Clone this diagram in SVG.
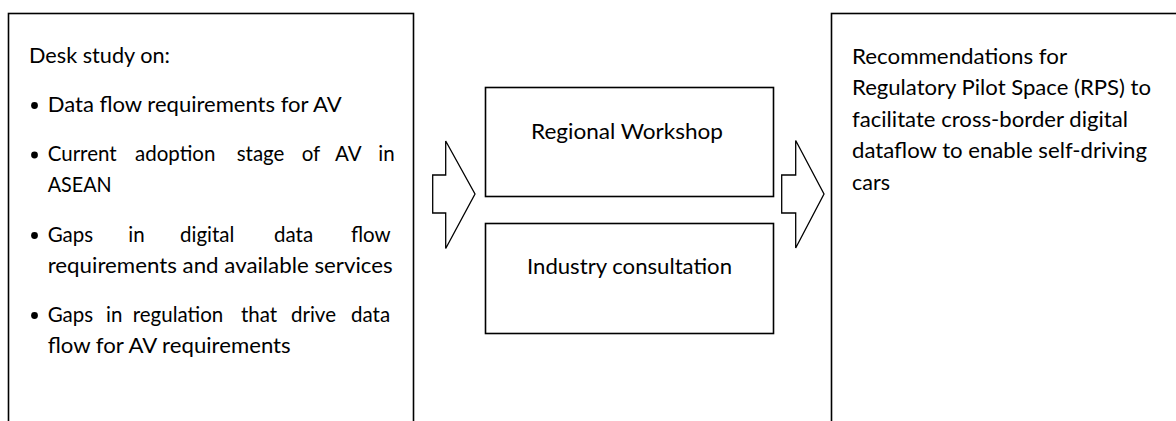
<svg xmlns="http://www.w3.org/2000/svg" width="1176" height="421" viewBox="0 0 1176 421">
<style>
.box{fill:#fff;stroke:#000;stroke-width:1.6}
.arr{fill:#fff;stroke:#000;stroke-width:1.3;stroke-linejoin:miter}
text{font-family:Lato,"Open Sans","Liberation Sans",sans-serif;font-size:20.5px;fill:#000}
</style>
<rect width="1176" height="421" fill="#fff"/>
<g id="desk-study">
<rect class="box" x="8.5" y="13.5" width="405" height="420"/>
<text x="29" y="63" textLength="141" lengthAdjust="spacingAndGlyphs">Desk study on:</text>
<circle cx="34.5" cy="105.5" r="3.4"/>
<text x="47.7" y="111.5" textLength="294" lengthAdjust="spacingAndGlyphs">Data flow requirements for AV</text>
<circle cx="34.5" cy="155" r="3.4"/>
<text y="161"><tspan x="47.7">Current</tspan><tspan x="135">adoption</tspan><tspan x="236.7">stage</tspan><tspan x="301.7">of</tspan><tspan x="335">AV</tspan><tspan x="378.3">in</tspan></text>
<text x="47.7" y="192" textLength="64" lengthAdjust="spacingAndGlyphs">ASEAN</text>
<circle cx="34.5" cy="235.5" r="3.4"/>
<text y="241.5"><tspan x="47.7">Gaps</tspan><tspan x="128.3">in</tspan><tspan x="180">digital</tspan><tspan x="274">data</tspan><tspan x="351">flow</tspan></text>
<text x="47.7" y="273" textLength="345" lengthAdjust="spacingAndGlyphs">requirements and available services</text>
<circle cx="34.5" cy="315.5" r="3.4"/>
<text y="321.5"><tspan x="47.7">Gaps</tspan><tspan x="106">in</tspan><tspan x="132.7">regulation</tspan><tspan x="241">that</tspan><tspan x="291">drive</tspan><tspan x="351">data</tspan></text>
<text x="47.7" y="353" textLength="243" lengthAdjust="spacingAndGlyphs">flow for AV requirements</text>
</g>
<g id="regional-workshop">
<rect class="box" x="485.5" y="87.5" width="288" height="109"/>
<text x="531" y="138.5" textLength="192" lengthAdjust="spacingAndGlyphs">Regional Workshop</text>
</g>
<g id="industry-consultation">
<rect class="box" x="485.5" y="223.5" width="288" height="110"/>
<text x="527" y="273.5" textLength="205" lengthAdjust="spacingAndGlyphs">Industry consultation</text>
</g>
<g id="recommendations">
<rect class="box" x="831.5" y="13.5" width="400" height="420"/>
<text x="852" y="63.5" textLength="215" lengthAdjust="spacingAndGlyphs">Recommendations for</text>
<text x="852" y="95" textLength="299" lengthAdjust="spacingAndGlyphs">Regulatory Pilot Space (RPS) to</text>
<text x="852" y="126.5" textLength="276" lengthAdjust="spacingAndGlyphs">facilitate cross-border digital</text>
<text x="852" y="158" textLength="295" lengthAdjust="spacingAndGlyphs">dataflow to enable self-driving</text>
<text x="852" y="189.5" textLength="38" lengthAdjust="spacingAndGlyphs">cars</text>
</g>
<g id="connectors">
<polygon class="arr" points="432.7,175 445.7,175 445.7,141 475,194 445.7,248.5 445.7,213 432.7,213"/>
<polygon class="arr" points="781.7,175 795.7,175 795.7,140.5 824,194 795.7,248 795.7,213 781.7,213"/>
</g>
</svg>
